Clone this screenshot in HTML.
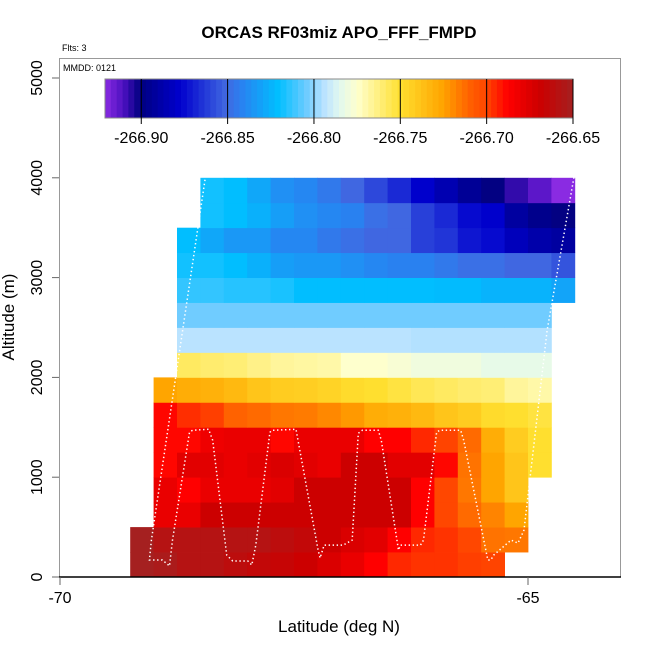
<!DOCTYPE html>
<html><head><meta charset="utf-8"><style>
body{margin:0;background:#fff;}
svg text{font-family:"Liberation Sans",sans-serif;}
</style></head><body>
<svg id="chart" width="650" height="650" viewBox="0 0 650 650" xmlns="http://www.w3.org/2000/svg">
<rect width="650" height="650" fill="#fff"/>
<text x="339" y="38" text-anchor="middle" font-size="17" font-weight="bold">ORCAS RF03miz APO_FFF_FMPD</text>
<text x="62" y="51" font-size="9">Flts: 3</text>
<g id="cells"></g>
<polyline id="track" fill="none" stroke="#fff" stroke-width="1.5" stroke-dasharray="1.4 2.6"/>
<rect x="59.5" y="58.5" width="561" height="518.5" fill="none" stroke="#999"/>
<line x1="59" y1="577" x2="621" y2="577" stroke="#000" stroke-width="1.5"/>
<text x="63" y="71" font-size="9">MMDD: 0121</text>
<g id="cbar"></g>
<g id="axes"></g>
<text x="339" y="632" text-anchor="middle" font-size="17">Latitude (deg N)</text>
<text transform="translate(14,317) rotate(-90)" text-anchor="middle" font-size="17">Altitude (m)</text>
</svg>
<script>
const latStarts = [-69.25,-69.0,-68.75,-68.5,-68.25,-68.0,-67.75,-67.5,-67.25,-67.0,-66.75,-66.5,-66.25,-66.0,-65.75,-65.5,-65.25,-65.0,-64.75];
const altStarts = [0,250,500,750,1000,1250,1500,1750,2000,2250,2500,2750,3000,3250,3500,3750];
const n = null;
const row0 = [-266.650,-266.653,-266.658,-266.658,-266.661,-266.664,-266.666,-266.669,-266.674,-266.680,-266.688,-266.695,-266.697,-266.697,-266.699,-266.700,n,n,n];
const row1 = [-266.650,-266.658,-266.658,-266.658,-266.658,-266.658,-266.661,-266.664,-266.669,-266.674,-266.677,-266.688,-266.695,-266.697,-266.701,-266.714,-266.715,n,n];
const row2 = [n,-266.680,-266.680,-266.669,-266.669,-266.669,-266.669,-266.669,-266.669,-266.669,-266.669,-266.669,-266.688,-266.701,-266.712,-266.718,-266.726,n,n];
const row3 = [n,-266.680,-266.688,-266.680,-266.680,-266.680,-266.677,-266.669,-266.669,-266.669,-266.669,-266.669,-266.688,-266.701,-266.715,-266.726,-266.739,n,n];
const row4 = [n,-266.689,-266.677,-266.677,-266.680,-266.677,-266.674,-266.677,-266.680,-266.669,-266.669,-266.677,-266.677,-266.689,-266.714,-266.726,-266.739,-266.750,n];
const row5 = [n,-266.689,-266.689,-266.682,-266.680,-266.680,-266.689,-266.680,-266.680,-266.680,-266.688,-266.688,-266.695,-266.700,-266.712,-266.729,-266.742,-266.750,n];
const row6 = [n,-266.689,-266.696,-266.699,-266.710,-266.712,-266.715,-266.716,-266.719,-266.723,-266.729,-266.731,-266.734,-266.739,-266.742,-266.748,-266.750,-266.753,n];
const row7 = [n,-266.726,-266.729,-266.731,-266.734,-266.739,-266.742,-266.743,-266.745,-266.748,-266.750,-266.753,-266.756,-266.758,-266.760,-266.761,-266.767,-266.769,n];
const row8 = [n,n,-266.758,-266.760,-266.761,-266.764,-266.767,-266.768,-266.769,-266.775,-266.775,-266.777,-266.780,-266.780,-266.780,-266.783,-266.783,-266.783,n];
const row9 = [n,n,-266.794,-266.794,-266.794,-266.794,-266.794,-266.794,-266.794,-266.794,-266.794,-266.794,-266.795,-266.795,-266.795,-266.795,-266.795,-266.795,n];
const row10 = [n,n,-266.804,-266.804,-266.804,-266.804,-266.804,-266.804,-266.804,-266.804,-266.804,-266.804,-266.804,-266.804,-266.804,-266.804,-266.804,-266.804,n];
const row11 = [n,n,-266.813,-266.813,-266.815,-266.815,-266.817,-266.821,-266.821,-266.821,-266.821,-266.821,-266.821,-266.822,-266.822,-266.825,-266.825,-266.825,-266.830];
const row12 = [n,n,-266.818,-266.818,-266.821,-266.826,-266.832,-266.834,-266.834,-266.837,-266.840,-266.842,-266.842,-266.845,-266.848,-266.848,-266.851,-266.851,-266.856];
const row13 = [n,n,-266.821,-266.829,-266.834,-266.834,-266.840,-266.840,-266.845,-266.848,-266.851,-266.851,-266.861,-266.864,-266.872,-266.875,-266.883,-266.888,-266.891];
const row14 = [n,n,n,-266.818,-266.821,-266.826,-266.832,-266.837,-266.840,-266.842,-266.848,-266.851,-266.861,-266.867,-266.875,-266.878,-266.891,-266.897,-266.901];
const row15 = [n,n,n,-266.818,-266.821,-266.829,-266.837,-266.840,-266.845,-266.851,-266.859,-266.867,-266.878,-266.886,-266.894,-266.901,-266.907,-266.913,-266.921];
const gridRows = [row0,row1,row2,row3,row4,row5,row6,row7,row8,row9,row10,row11,row12,row13,row14,row15];
const cbTicks = [-266.90,-266.85,-266.80,-266.75,-266.70,-266.65];
const xTicks = [-70,-65];
const yTicks = [0,1000,2000,3000,4000,5000];
const trackLat = [-68.444,-68.766,-69.024,-69.045,-68.906,-68.830,-68.798,-68.616,-68.584,-68.412,-68.369,-68.219,-68.155,-67.994,-67.951,-67.908,-67.758,-67.736,-67.479,-67.457,-67.242,-67.221,-67.178,-66.974,-66.878,-66.813,-66.770,-66.599,-66.567,-66.384,-66.363,-66.148,-66.116,-65.976,-65.944,-65.719,-65.687,-65.429,-65.397,-65.365,-65.182,-65.107,-65.043,-64.796,-64.506];
const trackAlt = [4020,1990,370,170,170,110,370,1450,1470,1480,1370,220,160,160,120,320,1450,1470,1480,1370,270,190,320,320,370,1440,1470,1470,1370,270,320,320,370,1450,1470,1470,1370,170,170,220,370,340,470,2470,4020];

const VMIN=-266.921, VMAX=-266.650;
const stops=[[0,"#8a2be2"],[0.04,"#4b10c0"],[0.075,"#000080"],[0.16,"#0000cd"],[0.26,"#4169e1"],[0.29,"#2a80f0"],[0.37,"#00bfff"],[0.43,"#6ccbff"],[0.47,"#bde4ff"],[0.50,"#e0f8f0"],[0.54,"#ffffcc"],[0.63,"#ffe030"],[0.72,"#ffa500"],[0.78,"#ff6000"],[0.815,"#ff4500"],[0.86,"#ff0000"],[0.93,"#cc0000"],[1,"#a52020"]];
function hex(h){return [1,3,5].map(i=>parseInt(h.substr(i,2),16));}
function color(v){
  let f=(v-VMIN)/(VMAX-VMIN); f=Math.max(0,Math.min(1,f));
  for(let i=1;i<stops.length;i++){ if(f<=stops[i][0]){ const a=stops[i-1],b=stops[i]; const t=(f-a[0])/(b[0]-a[0]); const ca=hex(a[1]),cb=hex(b[1]); return "rgb("+ca.map((c,k)=>Math.round(c+(cb[k]-c)*t)).join(",")+")"; } }
  return stops[stops.length-1][1];
}
const xs=lat=>60+(lat+70)*93.6;
const ys=alt=>577-alt*0.0998;
const NS="http://www.w3.org/2000/svg";
function mk(tag,attrs,parent){const e=document.createElementNS(NS,tag);for(const k in attrs)e.setAttribute(k,attrs[k]);parent.appendChild(e);return e;}
const cells=document.getElementById("cells");
gridRows.forEach((row,ri)=>{row.forEach((v,ci)=>{ if(v===null)return;
  const x0=xs(latStarts[ci]), x1=xs(latStarts[ci]+0.25), y0=ys(altStarts[ri]+250), y1=ys(altStarts[ri]);
  const r=mk("rect",{x:x0.toFixed(2),y:y0.toFixed(2),width:(x1-x0+0.4).toFixed(2),height:(y1-y0+0.4).toFixed(2),fill:color(v)},cells);
  
  
});});
document.getElementById("track").setAttribute("points",trackLat.map((l,i)=>xs(l).toFixed(1)+","+ys(trackAlt[i]).toFixed(1)).join(" "));
// colorbar
const cb=document.getElementById("cbar");
const cbx=v=>105+(v-VMIN)/(VMAX-VMIN)*468;
const N=80;
for(let i=0;i<N;i++){const v=VMIN+(VMAX-VMIN)*(i+0.5)/N;
  const r=mk("rect",{x:(105+468*i/N).toFixed(2),y:79,width:(468/N+0.4).toFixed(2),height:39,fill:color(v)},cb);
  
  
}
mk("rect",{x:105,y:79,width:468,height:39,fill:"none",stroke:"#888"},cb);
cbTicks.forEach(t=>{const x=cbx(t);
  const l=mk("line",{x1:x,y1:79,x2:x,y2:124,stroke:"#000","stroke-width":1},cb);
  
  
  const tx=mk("text",{x:x,y:143,"text-anchor":"middle","font-size":"16"},cb); tx.textContent=t.toFixed(2);
  
  
});
const ax=document.getElementById("axes");
xTicks.forEach(t=>{const x=xs(t);
  const l=mk("line",{x1:x,y1:577,x2:x,y2:585,stroke:"#666"},ax);
  
  
  const tx=mk("text",{x:x,y:603,"text-anchor":"middle","font-size":"16"},ax); tx.textContent=String(t);
  
  
});
yTicks.forEach(t=>{const y=ys(t);
  const l=mk("line",{x1:52,y1:y,x2:59,y2:y,stroke:"#666"},ax);
  
  
  const tx=mk("text",{transform:"translate(42,"+y.toFixed(1)+") rotate(-90)","text-anchor":"middle","font-size":"16"},ax); tx.textContent=String(t);
  
  
});
</script>
</body></html>
